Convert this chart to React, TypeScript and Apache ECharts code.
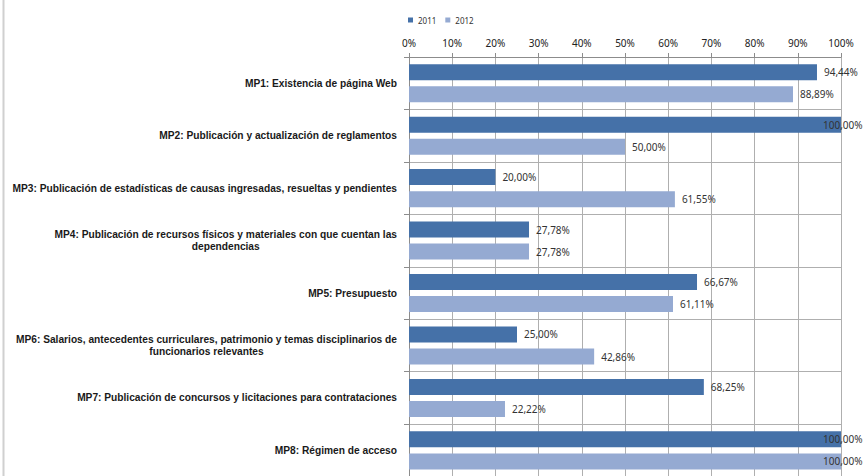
import React, { useEffect, useRef } from "react";
import * as echarts from "echarts";

const categories: string[] = [
  "MP1: Existencia de página Web",
  "MP2: Publicación y actualización de reglamentos",
  "MP3: Publicación de estadísticas de causas ingresadas, resueltas y pendientes",
  "MP4: Publicación de recursos físicos y materiales con que cuentan las\ndependencias",
  "MP5: Presupuesto",
  "MP6: Salarios, antecedentes curriculares, patrimonio y temas disciplinarios de\nfuncionarios relevantes",
  "MP7: Publicación de concursos y licitaciones para contrataciones",
  "MP8: Régimen de acceso",
];

const seriesNames: string[] = ["2011", "2012"];
const values2011: number[] = [94.44, 100, 20, 27.78, 66.67, 25, 68.25, 100];
const values2012: number[] = [88.89, 50, 61.55, 27.78, 61.11, 42.86, 22.22, 100];
const xTicks: number[] = [0, 10, 20, 30, 40, 50, 60, 70, 80, 90, 100];

const COLORS = ["#4571A8", "#95AAD2"];
const CAT_FONT = '"Liberation Sans", Arial, sans-serif';
const NUM_FONT = '"Noto Sans", "Open Sans", sans-serif';
const CAT_SIZE = 10.2;

const fmt = (v: number) => v.toFixed(2).replace(".", ",") + "%";

function buildData(vals: number[]) {
  return vals.map((v) =>
    v >= 100
      ? { value: v, label: { offset: [-25, 0] } }
      : { value: v }
  );
}

export default function App() {
  const ref = useRef<HTMLDivElement>(null);

  useEffect(() => {
    if (!ref.current) return;
    const chart = echarts.init(ref.current, undefined, { renderer: "svg" });
    const labelCommon = {
      show: true,
      position: "right",
      distance: 7,
      fontFamily: NUM_FONT,
      fontSize: 10,
      color: "#333333",
      formatter: (p: any) => fmt(p.value),
    };
    chart.setOption({
      animation: false,
      backgroundColor: "#ffffff",
      legend: {
        data: seriesNames,
        left: 403,
        top: 11,
        itemWidth: 5,
        itemHeight: 5,
        itemGap: 9,
        icon: "rect",
        textStyle: { fontFamily: NUM_FONT, fontSize: 8, color: "#333" },
      },
      graphic: [
        {
          type: "line",
          shape: { x1: 3.5, y1: 0, x2: 3.5, y2: 476 },
          style: { stroke: "#D0D0D0", lineWidth: 2 },
          silent: true,
        },
      ],
      grid: {
        left: 409,
        top: 57,
        width: 432,
        height: 419.6,
        containLabel: false,
        outerBoundsMode: "none",
      },
      xAxis: {
        type: "value",
        position: "top",
        min: xTicks[0],
        max: xTicks[xTicks.length - 1],
        interval: 10,
        axisLine: { show: true, lineStyle: { color: "#8C8C8C" } },
        axisTick: { show: true, length: 4, lineStyle: { color: "#8C8C8C" } },
        axisLabel: {
          margin: 9,
          fontFamily: NUM_FONT,
          fontSize: 10,
          color: "#222",
          formatter: (v: number) => v + "%",
        },
        splitLine: { show: true, lineStyle: { color: "#AFAFAF", width: 1 } },
      },
      yAxis: {
        type: "category",
        inverse: true,
        data: categories,
        axisLine: { show: true, lineStyle: { color: "#8C8C8C" } },
        axisTick: { show: true, length: 5, lineStyle: { color: "#8C8C8C" } },
        splitLine: { show: true, lineStyle: { color: "#AFAFAF", width: 1 } },
        axisLabel: {
          margin: 12,
          fontFamily: CAT_FONT,
          fontWeight: "bold",
          fontSize: CAT_SIZE,
          color: "#1a1a1a",
          lineHeight: 12,
          formatter: (v: string) =>
            v
              .split("\n")
              .map((l) => "{c|" + l + "}")
              .join("\n"),
          rich: {
            c: {
              align: "center",
              fontFamily: CAT_FONT,
              fontWeight: "bold",
              fontSize: CAT_SIZE,
              color: "#1a1a1a",
              lineHeight: 12,
            },
          },
        },
      },
      series: [
        {
          name: seriesNames[0],
          type: "bar",
          data: buildData(values2011),
          barWidth: 16,
          barGap: "38%",
          itemStyle: { color: COLORS[0] },
          label: labelCommon,
        },
        {
          name: seriesNames[1],
          type: "bar",
          data: buildData(values2012),
          barWidth: 16,
          barGap: "38%",
          itemStyle: { color: COLORS[1] },
          label: labelCommon,
        },
      ],
    });
    return () => chart.dispose();
  }, []);

  return (
    <div
      ref={ref}
      style={{ position: "fixed", left: 0, top: 0, width: 866, height: 476 }}
    />
  );
}
